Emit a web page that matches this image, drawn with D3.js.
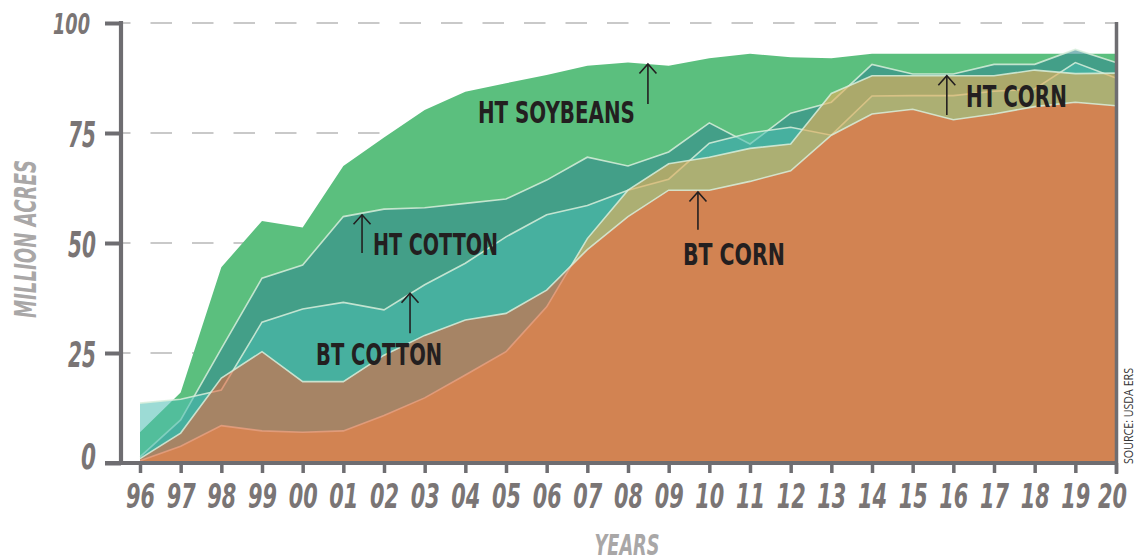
<!DOCTYPE html>
<html>
<head>
<meta charset="utf-8">
<script src="https://cdn.jsdelivr.net/npm/d3@7"></script>
<style>
  body { margin: 0; background: #fff; }
  svg { display: block; }
  .cond { font-family: "Liberation Sans Narrow", "DejaVu Sans Condensed", "Roboto", sans-serif; font-weight: bold; }
</style>
</head>
<body>
<script>
const width = 1136;
const height = 560;

// years on the x axis
const years = [1996, 1997, 1998, 1999, 2000, 2001, 2002, 2003, 2004, 2005, 2006, 2007, 2008,
               2009, 2010, 2011, 2012, 2013, 2014, 2015, 2016, 2017, 2018, 2019, 2020];
const yearLabels = ["96", "97", "98", "99", "00", "01", "02", "03", "04", "05", "06", "07", "08",
                    "09", "10", "11", "12", "13", "14", "15", "16", "17", "18", "19", "20"];

// series values
const htSoybeans = [7, 16, 44.5, 55, 53.5, 67.5, 74, 80.2, 84.4, 86.3, 88.2, 90.3, 91, 90.3, 92, 93, 92.2, 92, 93, 93, 93, 93, 93, 93, 93];
const htCotton   = [1.4, 9.8, 26, 42, 45, 56, 57.7, 58, 59, 60, 64.3, 69.5, 67.5, 70.7, 77.3, 72.5, 79.5, 82, 90.6, 88.4, 88.4, 90.6, 90.6, 94, 91];
const btCotton   = [13.6, 14.5, 16.6, 32, 35, 36.5, 34.8, 40.5, 45.4, 51.4, 56.4, 58.5, 62, 64.5, 72.7, 75, 76.3, 74.5, 83.4, 83.5, 83.5, 84.5, 85, 91, 87.5];
const htCorn     = [0.5, 3.8, 8.5, 7.3, 7, 7.3, 10.8, 14.8, 20, 25.3, 35.5, 51, 62, 68, 69.5, 71.5, 72.5, 84, 88, 88, 88, 88, 89.3, 88.5, 88.6];
const btCorn     = [1, 6.8, 19.3, 25.3, 18.5, 18.5, 24.5, 29, 32.5, 34, 39.3, 48.5, 56, 62, 62, 64, 66.4, 74.5, 79.3, 80.4, 78, 79.3, 81, 82, 81.2];

const yTicks = [0, 25, 50, 75, 100];
const yTickLabels = ["0", "25", "50", "75", "100"];

// arrow labels: arrow at year, from base value up to tip value; text starts at tx, baseline ty
const labels = ["HT SOYBEANS", "HT COTTON", "BT COTTON", "BT CORN", "HT CORN"];
const labelYear = [2008.49, 2001.46, 2002.64, 2009.72, 2015.84];
const labelTip  = [90.7, 56.4, 38.6, 61.6, 88];
const labelBase = [81.6, 47.7, 29.5, 53, 79.1];
const textYear  = [2004.31, 2001.73, 2000.33, 2009.35, 2016.31];
const textValue = [77.3, 47.3, 22.3, 45, 80.9];
const textWidth = [157, 125, 126, 102, 101];

// draw order = back to front
const series = [
  { name: "HT soybeans", values: htSoybeans, fill: "rgb(91,191,126)", op: 1 },
  { name: "HT cotton",   values: htCotton,   fill: "rgb(51,139,144)", op: 0.6 },
  { name: "Bt cotton",   values: btCotton,   fill: "rgb(75,190,178)", op: 0.55 },
  { name: "HT corn",     values: htCorn,     fill: "rgb(227,175,92)", op: 0.65 },
  { name: "Bt corn",     values: btCorn,     fill: "rgb(240,98,58)",  op: 0.57 }
];

const svg = d3.select("body").append("svg").attr("width", width).attr("height", height);

const x = d3.scaleLinear().domain([1996, 2020]).range([140, 1116]);
const y = d3.scaleLinear().domain([0, 100]).range([463, 23]);

const axisColor = "#6e6d71";

// dashed grid
svg.append("g").selectAll("line")
  .data(yTicks.filter(d => d > 0))
  .enter().append("line")
  .attr("x1", 109).attr("x2", 1116)
  .attr("y1", d => y(d)).attr("y2", d => y(d))
  .attr("stroke", "#c9c9c9")
  .attr("stroke-width", 2)
  .attr("stroke-dasharray", "21.5,20");

// areas
const area = d3.area()
  .x((d, i) => x(years[i]))
  .y0(y(0))
  .y1(d => y(d));
const line = d3.line()
  .x((d, i) => x(years[i]))
  .y(d => y(d));

const plot = svg.append("g");
series.forEach(function(s, k) {
  plot.append("path")
    .attr("d", area(s.values))
    .attr("fill", s.fill)
    .attr("fill-opacity", s.op);
  if (k > 0) {
    plot.append("path")
      .attr("d", line(s.values))
      .attr("fill", "none")
      .attr("stroke", "#d8efdc")
      .attr("stroke-opacity", 0.85)
      .attr("stroke-width", 1.6);
  }
});

// annotations
const ann = svg.append("g");
labels.forEach(function(t, i) {
  const ax = x(labelYear[i]);
  const ty = y(labelTip[i]);
  ann.append("line")
    .attr("x1", ax).attr("x2", ax)
    .attr("y1", y(labelBase[i])).attr("y2", ty)
    .attr("stroke", "#231f20").attr("stroke-width", 1.6);
  ann.append("path")
    .attr("d", `M${ax - 8.5},${ty + 9.5}L${ax},${ty}L${ax + 8.5},${ty + 9.5}`)
    .attr("fill", "none").attr("stroke", "#231f20").attr("stroke-width", 1.6);
  ann.append("text")
    .attr("class", "cond")
    .attr("x", x(textYear[i]))
    .attr("y", y(textValue[i]))
    .attr("font-size", 31)
    .attr("fill", "#231f20")
    .attr("textLength", textWidth[i])
    .attr("lengthAdjust", "spacingAndGlyphs")
    .text(t);
});

// axes
const yAxis = svg.append("g")
  .attr("transform", "translate(121,0)")
  .call(d3.axisLeft(y).tickValues(yTicks).tickSize(16).tickSizeOuter(0).tickFormat((d, i) => yTickLabels[i]));
yAxis.select(".domain").remove();
yAxis.selectAll(".tick line").attr("stroke", axisColor).attr("stroke-width", 4);
yAxis.selectAll(".tick text")
  .attr("class", "cond")
  .attr("font-style", "italic")
  .attr("font-size", d => d === 100 ? 28 : 35)
  .attr("fill", "#7a7575")
  .attr("x", d => d === 100 ? -31 : -25)
  .attr("dy", null)
  .attr("y", d => d === 100 ? 10 : (d === 0 ? 5 : 13))
  .attr("textLength", d => d === 100 ? 37 : (d === 0 ? 15 : 28))
  .attr("lengthAdjust", "spacingAndGlyphs");

const xAxis = svg.append("g")
  .attr("transform", "translate(0,463)")
  .call(d3.axisBottom(x).tickValues(years).tickSize(10).tickSizeOuter(0).tickFormat((d, i) => yearLabels[i]));
xAxis.select(".domain").remove();
xAxis.selectAll(".tick line").attr("stroke", axisColor).attr("stroke-width", 3.5);
xAxis.selectAll(".tick text")
  .attr("class", "cond")
  .attr("font-style", "italic")
  .attr("font-size", 34)
  .attr("fill", "#7a7575")
  .attr("dy", null)
  .attr("x", d => d === 2020 ? -4 : 0)
  .attr("y", 45)
  .attr("textLength", 29)
  .attr("lengthAdjust", "spacingAndGlyphs");

// axis frame
svg.append("line").attr("x1", 121).attr("x2", 121).attr("y1", 21).attr("y2", 465)
  .attr("stroke", axisColor).attr("stroke-width", 4.2);
svg.append("line").attr("x1", 105).attr("x2", 1118).attr("y1", 463).attr("y2", 463)
  .attr("stroke", axisColor).attr("stroke-width", 4.2);
svg.append("line").attr("x1", 1116.5).attr("x2", 1116.5).attr("y1", 22).attr("y2", 474)
  .attr("stroke", axisColor).attr("stroke-width", 3.5);

// axis titles
svg.append("text")
  .attr("class", "cond")
  .attr("font-style", "italic")
  .attr("font-size", 31)
  .attr("fill", "#a9a7a7")
  .attr("text-anchor", "middle")
  .attr("transform", "translate(36,239) rotate(-90)")
  .attr("textLength", 158)
  .attr("lengthAdjust", "spacingAndGlyphs")
  .text("MILLION ACRES");

svg.append("text")
  .attr("class", "cond")
  .attr("font-style", "italic")
  .attr("font-size", 29)
  .attr("fill", "#a9a7a7")
  .attr("text-anchor", "middle")
  .attr("x", 627).attr("y", 555)
  .attr("textLength", 65)
  .attr("lengthAdjust", "spacingAndGlyphs")
  .text("YEARS");

svg.append("text")
  .attr("font-family", "'Open Sans', sans-serif")
  .attr("font-size", 12)
  .attr("fill", "#333")
  .attr("transform", "translate(1133,464) rotate(-90)")
  .attr("textLength", 96)
  .attr("lengthAdjust", "spacingAndGlyphs")
  .text("SOURCE: USDA ERS");
</script>
</body>
</html>
